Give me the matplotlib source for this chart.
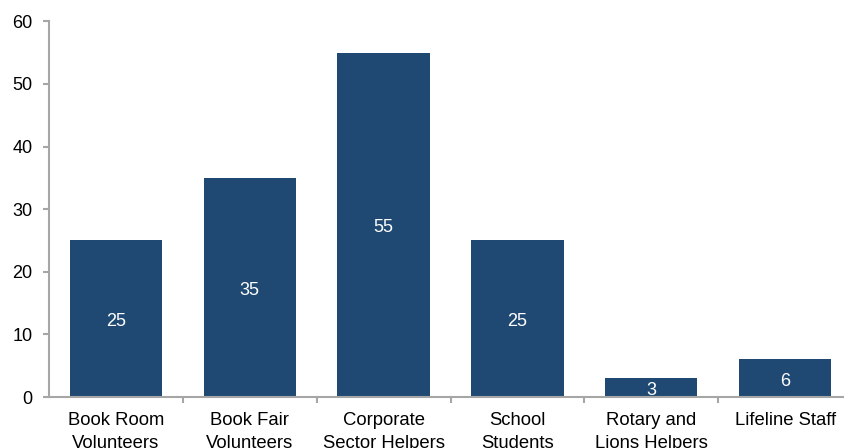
import matplotlib
matplotlib.use("Agg")
import matplotlib.pyplot as plt

categories = ["Book Room\nVolunteers", "Book Fair\nVolunteers", "Corporate\nSector Helpers",
              "School\nStudents", "Rotary and\nLions Helpers", "Lifeline Staff"]
values = [25, 35, 55, 25, 3, 6]
y_ticks = [0, 10, 20, 30, 40, 50, 60]

plt.rcParams['font.family'] = ['Liberation Sans', 'DejaVu Sans']

W, H = 844, 448
fig = plt.figure(figsize=(W / 100, H / 100), dpi=100)
left, right = 49 / W, 852 / W
bottom, top = (H - 397) / H, (H - 21.3) / H
ax = fig.add_axes([left, bottom, right - left, top - bottom])

bar_color = "#1F4972"
spine_color = "#A6A6A6"
x = list(range(len(categories)))
ax.bar(x, values, width=0.69, color=bar_color, zorder=2)

for xi, v in zip(x, values):
    ax.annotate(str(v), xy=(xi, v / 2), xytext=(0, -2.2), textcoords="offset points",
                ha="center", va="center", color="white", fontsize=13, zorder=3)

ax.set_xlim(-0.5, len(categories) - 0.5)
ax.set_ylim(0, 60)
ax.set_yticks(y_ticks)
ax.set_yticklabels([str(t) for t in y_ticks], fontsize=13)

ax.set_xticks(x)
ax.set_xticklabels(categories, fontsize=13.3, linespacing=1.45)
ax.set_xticks([i + 0.5 for i in x[:-1]], minor=True)
ax.tick_params(axis="x", which="major", length=0, pad=11)
ax.tick_params(axis="x", which="minor", length=4, width=1.5, color=spine_color, direction="out")
ax.tick_params(axis="y", length=4, width=1.5, color=spine_color, direction="out", pad=8)

for s in ("top", "right"):
    ax.spines[s].set_visible(False)
for s in ("left", "bottom"):
    ax.spines[s].set_color(spine_color)
    ax.spines[s].set_linewidth(1.5)

fig.savefig("out.png", dpi=100)
